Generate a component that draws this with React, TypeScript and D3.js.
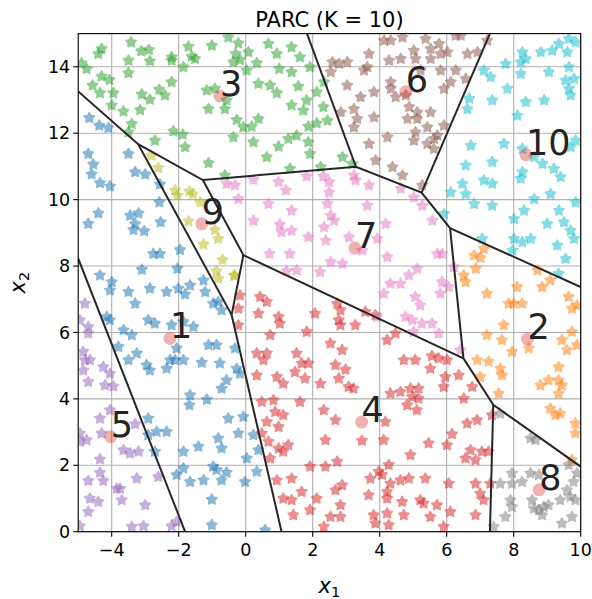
import React from 'react';
import * as d3 from 'd3';

// tab10
const palette = [
  '#1f77b4', '#ff7f0e', '#2ca02c', '#d62728', '#9467bd',
  '#8c564b', '#e377c2', '#7f7f7f', '#bcbd22', '#17becf'
];

const cluster1: [number, number][] = [
  [-4.67, 12.46], [-4.37, 12.23], [-4.1, 12.16], [-4.7, 11.38], [-4.55, 11.06], [-4.6, 10.76],
  [-4.35, 10.5], [-4.05, 10.4], [-3.5, 11.38], [-3.3, 10.83], [-3.0, 10.76], [-2.56, 10.46],
  [-2.58, 9.92], [-4.4, 9.59], [-4.7, 9.27], [-3.45, 9.52], [-3.2, 9.59], [-3.3, 9.27],
  [-3.35, 9.09], [-3.03, 9.05], [-2.54, 9.32], [-2.76, 8.37], [-2.56, 8.37], [-1.96, 8.49],
  [-3.1, 7.89], [-2.04, 7.92],
  [-4.35, 7.72], [-4.0, 7.52], [-4.05, 7.27], [-3.5, 7.22], [-3.3, 6.87], [-2.86, 7.32],
  [-2.36, 7.22], [-2.01, 7.32], [-1.81, 7.15], [-1.66, 7.42], [-1.26, 7.57], [-1.21, 7.22],
  [-0.97, 6.87], [-0.82, 6.92], [-0.72, 6.67], [-4.15, 6.47], [-4.05, 6.37], [-2.91, 6.37],
  [-2.71, 6.27], [-2.21, 6.22], [-1.86, 6.32], [-1.56, 6.17], [-3.65, 6.07], [-3.4, 5.92],
  [-3.8, 5.57], [-3.25, 5.37], [-3.5, 5.17], [-2.96, 5.02], [-2.86, 4.86], [-2.36, 4.91],
  [-2.26, 5.17], [-2.06, 5.52], [-2.11, 5.17], [-1.86, 5.17], [-1.31, 5.09], [-1.11, 5.62],
  [-0.87, 5.62], [-0.77, 5.07], [-0.57, 4.56], [-0.72, 4.31], [-0.32, 5.52], [-0.27, 4.91],
  [-0.17, 4.76], [-1.66, 4.11], [-1.68, 3.81], [-1.16, 3.98], [-0.52, 3.41], [-0.07, 3.46],
  [-0.22, 2.96], [0.23, 2.91], [0.38, 2.46], [0.03, 2.21], [-0.82, 2.81], [-0.72, 2.51],
  [-1.41, 2.56], [-1.86, 2.41], [-2.91, 3.41], [-2.66, 3.01], [-2.36, 3.01], [-2.91, 2.91],
  [-2.71, 2.41], [-1.86, 1.91], [-2.06, 1.71], [-1.66, 1.5], [-1.26, 1.55], [-0.97, 1.96],
  [-0.87, 1.86], [-0.57, 1.78], [-0.72, 1.55], [-0.02, 1.5], [0.33, 1.81], [-1.01, 0.97],
  [-1.01, 0.2], [0.58, 0.05]
];

const cluster2: [number, number][] = [
  [7.11, 8.52], [6.82, 8.32], [7.01, 8.25], [6.87, 7.92], [8.71, 7.87],
  [6.51, 7.72], [6.56, 7.52], [7.2, 7.17], [8.1, 7.37], [8.85, 7.37], [9.09, 7.57],
  [9.64, 7.07], [9.89, 6.82], [7.85, 6.87], [8.0, 6.87], [8.25, 6.87], [9.74, 6.72],
  [7.7, 6.22], [7.2, 5.92], [7.65, 5.77], [8.45, 5.52], [7.95, 5.42], [9.44, 5.77],
  [9.59, 5.47], [9.74, 6.02], [9.89, 5.62], [6.91, 5.17], [7.25, 5.12], [7.6, 4.91],
  [7.65, 4.71], [7.0, 4.66], [7.55, 4.16], [9.34, 4.96], [9.04, 4.56], [8.8, 4.41],
  [9.34, 4.56], [9.44, 4.41], [9.34, 4.16], [9.09, 3.71], [9.24, 3.51], [9.39, 3.56],
  [9.84, 3.26], [9.84, 2.96], [9.74, 2.16]
];

const cluster3: [number, number][] = [
  [-4.3, 14.54], [-4.4, 14.39], [-3.42, 14.74], [-3.12, 14.47], [-2.89, 14.51], [-3.5, 14.19],
  [-2.86, 14.17], [-2.21, 14.29], [-2.21, 14.19], [-1.71, 14.61], [-1.61, 14.31], [-1.51, 14.24],
  [-1.01, 14.64], [-0.52, 14.89], [-0.22, 14.71], [-0.3, 14.39], [-0.37, 14.14], [0.08, 14.44],
  [-0.17, 14.21], [0.33, 14.11], [0.03, 13.89], [0.68, 14.69], [0.93, 14.39], [1.0, 13.94],
  [1.37, 13.84], [1.37, 14.59], [1.62, 14.29], [1.92, 13.99], [-4.75, 13.94], [-4.9, 14.11],
  [-4.3, 13.71], [-4.07, 13.61], [-3.5, 13.81], [-2.21, 13.54], [-1.86, 13.99], [-4.57, 13.44],
  [-4.35, 13.21], [-3.95, 13.21], [-4.0, 12.84], [-3.1, 13.17], [-2.86, 13.01], [-2.58, 13.31],
  [-2.41, 13.14], [-1.16, 13.29], [-0.92, 13.34], [-0.57, 12.99], [-1.11, 12.73], [-0.62, 12.73],
  [0.38, 13.49], [0.73, 13.44], [0.93, 13.21], [1.57, 13.41], [2.12, 13.24], [1.82, 12.99],
  [1.37, 12.84], [1.72, 12.68], [-0.27, 12.4], [-0.07, 12.18], [0.38, 12.43], [0.18, 12.2],
  [-0.37, 11.88], [0.23, 11.73], [0.63, 11.28], [0.98, 11.6], [1.27, 11.83], [1.52, 11.93],
  [1.87, 12.2], [2.12, 12.3], [1.87, 11.73], [1.92, 11.38], [1.32, 10.93], [-1.11, 11.1],
  [-0.62, 10.73], [-1.81, 11.58], [-2.16, 12.06], [-1.88, 11.96], [-2.71, 11.78], [-3.5, 12.03],
  [-3.4, 12.28], [-3.65, 12.66], [-3.15, 12.7], [2.34, 13.54], [2.44, 12.38], [2.89, 11.28],
  [3.18, 11.08], [2.24, 10.98], [2.32, 12.79]
];

const cluster4: [number, number][] = [
  [2.73, 6.87], [2.83, 6.67], [2.78, 6.37], [2.83, 6.22], [3.27, 6.22], [3.57, 6.62],
  [3.87, 6.52], [2.53, 5.67], [2.88, 5.47], [2.68, 5.02], [2.98, 4.88], [2.78, 4.61],
  [3.07, 4.36], [3.22, 4.31], [2.23, 4.46], [4.22, 5.77], [4.47, 5.97], [4.72, 5.17],
  [5.06, 5.17], [5.56, 5.29], [5.76, 5.22], [6.01, 5.17], [5.51, 4.91], [5.96, 4.66],
  [6.36, 4.71], [5.91, 4.36], [6.76, 4.36], [4.92, 4.31], [5.16, 4.31], [4.62, 4.21],
  [4.32, 4.16], [4.97, 4.06], [5.16, 4.01], [4.82, 3.81], [5.11, 3.66], [6.51, 4.01],
  [2.33, 3.66], [2.68, 3.36], [4.17, 3.31], [2.38, 2.76], [3.47, 2.74], [4.12, 2.76],
  [4.92, 2.31], [5.46, 2.66], [6.01, 2.61], [6.16, 2.94], [6.61, 3.26], [6.91, 3.36],
  [7.35, 3.51], [6.71, 2.46], [7.05, 2.41], [7.25, 2.41], [6.56, 2.21], [6.86, 2.16],
  [2.73, 2.11], [2.38, 1.96], [2.68, 1.25], [2.88, 1.4], [3.72, 1.6], [3.97, 1.81],
  [4.27, 2.01], [4.07, 1.71], [4.32, 1.45], [4.62, 1.55], [4.87, 1.6], [5.36, 1.6],
  [6.06, 1.45], [6.86, 1.45], [7.3, 1.45], [3.67, 1.1], [4.22, 1.2], [4.22, 1.0],
  [4.67, 0.9], [5.21, 0.95], [5.31, 0.85], [5.71, 0.8], [6.11, 0.6], [7.0, 1.15],
  [7.1, 0.95], [2.83, 0.8], [2.83, 0.45], [2.53, 0.45], [2.33, 0.15], [3.82, 0.5],
  [4.22, 0.55], [3.87, 0.25], [4.27, 0.2], [4.72, 0.5], [5.51, 0.45], [5.91, 0.15],
  [6.86, 0.5],
  [-0.17, 7.12], [0.43, 7.07], [0.63, 6.92], [0.38, 6.57], [-0.22, 6.72], [0.98, 6.47],
  [1.02, 6.27], [-0.22, 6.22], [0.73, 5.92], [1.82, 6.02], [2.07, 6.57], [0.33, 5.37],
  [0.63, 5.37], [0.53, 5.17], [1.52, 5.37], [1.67, 5.07], [1.87, 5.07], [0.33, 4.71],
  [0.93, 4.66], [1.12, 4.46], [1.47, 4.81], [1.77, 4.61], [0.48, 3.91], [0.83, 3.96],
  [0.88, 3.61], [1.12, 3.51], [1.62, 3.91], [0.63, 3.31], [0.98, 3.16], [0.48, 2.96],
  [0.68, 2.71], [0.73, 2.21], [0.98, 2.51], [1.27, 2.61], [1.12, 2.41], [1.92, 1.96],
  [0.93, 1.55], [1.37, 1.6], [1.67, 1.2], [1.12, 1.0], [1.37, 0.95], [2.12, 1.0],
  [1.42, 0.5], [1.92, 0.65]
];

const cluster5: [number, number][] = [
  [-4.8, 6.87], [-4.95, 6.37], [-4.7, 6.17], [-4.7, 5.97], [-4.85, 5.42], [-4.8, 5.17],
  [-4.65, 5.17], [-4.85, 4.86], [-4.25, 4.96], [-4.7, 4.51], [-4.05, 4.76], [-4.2, 4.41],
  [-3.95, 4.38], [-4.05, 3.66], [-4.35, 3.41], [-3.3, 3.24], [-4.3, 2.96], [-4.95, 2.96],
  [-4.95, 2.71], [-4.75, 2.76], [-3.65, 2.46], [-3.45, 2.36], [-3.2, 2.41], [-4.35, 2.18],
  [-4.35, 1.78], [-4.25, 1.53], [-4.7, 1.53], [-3.85, 1.3], [-3.75, 1.3], [-3.25, 1.6],
  [-2.61, 1.65], [-4.65, 1.0], [-4.4, 0.9], [-3.7, 0.95], [-4.7, 0.6], [-3.0, 0.8],
  [-3.4, 0.15], [-3.05, 0.17], [-4.95, 0.17], [-2.21, 0.17], [-2.06, 0.3]
];

const cluster6: [number, number][] = [
  [4.13, 14.79], [4.33, 14.79], [4.68, 14.89], [5.37, 14.84], [5.52, 14.54], [5.77, 14.69],
  [6.02, 14.44], [5.82, 14.39], [6.27, 14.94], [6.42, 14.94], [6.62, 14.39], [6.92, 14.44],
  [7.21, 14.79], [3.68, 14.39], [4.28, 14.19], [4.63, 14.24], [5.02, 14.49], [5.07, 14.24],
  [5.52, 14.24], [2.59, 14.14], [2.79, 14.09], [3.03, 14.14], [3.53, 13.89], [3.63, 13.99],
  [2.54, 13.84], [4.33, 13.54], [4.48, 13.09], [4.33, 13.34], [5.22, 13.89], [5.82, 13.89],
  [6.27, 13.89], [6.12, 13.54], [5.92, 13.34], [6.57, 13.64], [3.03, 13.44], [3.83, 13.24],
  [3.43, 13.09], [4.78, 13.14], [4.88, 12.79], [5.12, 12.63], [4.83, 12.43], [5.12, 12.43],
  [5.52, 12.63], [5.42, 12.18], [5.92, 12.23], [5.72, 11.93], [5.62, 11.83], [3.23, 12.73],
  [3.33, 12.43], [2.84, 12.63], [3.83, 12.48], [3.23, 12.18], [4.23, 11.88], [3.68, 11.68],
  [5.07, 12.03], [5.02, 11.78], [5.42, 11.68], [5.62, 11.53], [3.88, 11.18], [4.38, 10.98],
  [4.68, 10.73], [5.27, 10.43]
];

const cluster7: [number, number][] = [
  [-0.57, 10.48], [-0.32, 10.43], [0.23, 10.6], [0.98, 10.53], [1.2, 10.28], [1.82, 10.7],
  [2.32, 10.7], [-0.22, 10.02], [0.68, 9.87], [1.37, 9.67], [0.23, 9.37], [1.02, 9.25],
  [1.07, 9.02], [1.37, 9.07], [1.87, 8.87], [0.71, 8.37], [1.32, 8.37], [1.22, 7.85],
  [1.52, 7.87], [2.22, 7.82],
  [2.49, 10.53], [2.49, 10.22], [3.23, 10.73], [3.28, 10.58], [3.68, 10.43], [4.63, 10.33],
  [5.02, 10.07], [5.27, 9.82], [2.44, 9.87], [2.54, 9.52], [2.64, 9.37], [3.63, 9.82],
  [4.18, 9.27], [2.34, 9.17], [2.39, 8.77], [3.93, 8.82], [4.23, 8.27], [3.48, 8.47],
  [3.08, 8.87], [2.54, 8.12], [2.89, 8.07], [5.12, 7.92], [5.72, 8.37], [5.87, 8.37],
  [6.22, 7.97], [5.57, 9.37],
  [4.32, 7.47], [4.62, 7.47], [4.87, 7.72], [4.12, 7.17], [5.06, 7.07], [5.21, 6.82],
  [5.86, 7.52], [6.06, 7.37], [5.81, 7.17], [3.92, 6.47], [4.77, 6.47], [4.97, 6.37],
  [5.26, 6.27], [5.56, 6.27], [5.01, 6.02], [5.76, 5.97], [6.41, 5.47]
];

const cluster8: [number, number][] = [
  [7.6, 3.56], [8.5, 2.81], [8.65, 2.76], [7.95, 1.76], [8.5, 1.76], [7.6, 1.45],
  [7.95, 1.45], [8.25, 1.5], [8.75, 1.71], [9.64, 2.01], [9.89, 1.76], [9.79, 1.5],
  [9.84, 0.95], [9.59, 1.25], [9.39, 0.95], [9.69, 1.05], [7.9, 0.95], [7.95, 0.75],
  [7.75, 0.45], [8.55, 0.95], [8.75, 0.65], [8.9, 0.75], [8.6, 0.7], [8.85, 0.5],
  [9.04, 0.8], [9.44, 0.25], [9.74, 0.45], [7.4, 0.15]
];

const cluster9: [number, number][] = [
  [-2.81, 11.33], [-2.61, 10.96], [-2.11, 10.28], [-2.04, 10.12], [-1.68, 10.25], [-1.58, 10.17],
  [-1.36, 9.92], [-1.71, 9.35], [-0.92, 9.09], [-0.82, 8.82], [-1.26, 8.65], [-0.69, 8.19],
  [-0.87, 7.85], [-0.35, 7.71], [-0.82, 7.62], [-0.32, 7.72]
];

const cluster10: [number, number][] = [
  [8.26, 14.44], [8.36, 14.24], [8.81, 14.44], [9.15, 14.49], [9.35, 14.69], [9.6, 14.44],
  [9.65, 14.84], [9.85, 14.74], [8.21, 14.14], [7.76, 14.09], [7.11, 13.89], [7.31, 13.69],
  [8.21, 13.79], [9.05, 13.84], [9.65, 13.99], [9.55, 13.59], [9.8, 13.64], [9.65, 13.34],
  [9.7, 13.14], [7.81, 13.34], [8.36, 12.94], [8.91, 12.99], [7.36, 12.99], [6.67, 13.04],
  [6.62, 12.73], [8.11, 12.53], [6.72, 11.63], [7.71, 11.68], [8.26, 11.53], [8.61, 11.28],
  [8.86, 11.08], [9.2, 10.93], [9.4, 10.68], [8.26, 10.83], [8.21, 10.63], [7.36, 11.13],
  [6.57, 11.03], [7.11, 10.58], [7.36, 10.48], [6.47, 10.48], [6.57, 10.17], [6.12, 10.22],
  [6.82, 9.87], [7.36, 9.82], [8.01, 9.42], [8.31, 9.67], [9.35, 9.67], [9.85, 9.92],
  [9.0, 9.27], [9.5, 9.32], [9.7, 9.07], [9.8, 8.82], [8.01, 8.82], [8.26, 8.72],
  [8.51, 8.82], [7.96, 8.47], [9.3, 8.62], [9.55, 8.22], [7.06, 8.82], [8.61, 10.02],
  [9.1, 10.17], [9.7, 11.58], [9.85, 11.78], [5.92, 9.57], [9.34, 7.77]
];

const clusters = [
  cluster1, cluster2, cluster3, cluster4, cluster5,
  cluster6, cluster7, cluster8, cluster9, cluster10
];

const centers: [number, number][] = [
  [-2.26, 5.82], [8.41, 5.8], [-0.77, 13.12], [3.46, 3.3], [-4.03, 2.86],
  [4.78, 13.25], [3.26, 8.54], [8.76, 1.26], [-1.31, 9.27], [8.37, 11.35]
];
const centerLabels = ['1', '2', '3', '4', '5', '6', '7', '8', '9', '10'];

// partition edges
const boundaries: [number, number][][] = [
  [[-5, 13.26], [-3.21, 11.67], [-1.28, 10.59], [3.29, 10.99], [5.25, 10.21], [6.1, 9.14], [10, 7.37]],
  [[3.29, 10.99], [1.83, 15]],
  [[5.25, 10.21], [7.29, 15]],
  [[6.1, 9.14], [6.5, 5.22], [7.39, 3.82], [10, 1.96]],
  [[7.39, 3.82], [7.29, 0]],
  [[6.5, 5.22], [-0.07, 8.33], [-1.28, 10.59]],
  [[-0.07, 8.33], [-0.42, 6.53], [1.07, 0]],
  [[-3.21, 11.67], [-0.42, 6.53]],
  [[-5, 8.23], [-1.81, 0]]
];

const xTicks = [-4, -2, 0, 2, 4, 6, 8, 10];
const yTicks = [0, 2, 4, 6, 8, 10, 12, 14];

const W = 592;
const H = 599;
const left = 78.2;
const right = 580.7;
const top = 33.6;
const bottom = 531.7;
const font = 'DejaVu Sans, sans-serif';

// plump five-point star, like the blurred matplotlib '*' marker
const fatStar = {
  draw(ctx: d3.Path, size: number) {
    const R = Math.sqrt(size / 1.6);
    const r = R * 0.55;
    for (let i = 0; i < 10; i++) {
      const a = (Math.PI / 5) * i - Math.PI / 2;
      const rad = i % 2 === 0 ? R : r;
      const px = Math.cos(a) * rad;
      const py = Math.sin(a) * rad;
      if (i === 0) ctx.moveTo(px, py);
      else ctx.lineTo(px, py);
    }
    ctx.closePath();
  }
};

export default function App() {
  const x = d3.scaleLinear().domain([-5, 10]).range([left, right]);
  const y = d3.scaleLinear().domain([0, 15]).range([bottom, top]);
  const star = d3.symbol().type(fatStar as any).size(52)() as string;
  const line = d3.line<[number, number]>().x(d => x(d[0])).y(d => y(d[1]));

  return (
    <svg width={W} height={H} style={{ position: 'absolute', left: 0, top: 0, background: '#fff' }}>
      <defs>
        <clipPath id="plot">
          <rect x={left} y={top} width={right - left} height={bottom - top} />
        </clipPath>
      </defs>

      {xTicks.map(t => (
        <line key={'gx' + t} x1={x(t)} x2={x(t)} y1={top} y2={bottom} stroke="#b0b0b0" strokeWidth={1.1} />
      ))}
      {yTicks.map(t => (
        <line key={'gy' + t} y1={y(t)} y2={y(t)} x1={left} x2={right} stroke="#b0b0b0" strokeWidth={1.1} />
      ))}

      <g clipPath="url(#plot)">
        {clusters.map((pts, i) => (
          <g key={'c' + i} fill={palette[i]} stroke={palette[i]} strokeWidth={1.2} strokeLinejoin="round">
            {pts.map((p, j) => (
              <path key={j} d={star} opacity={0.52} transform={`translate(${x(p[0])},${y(p[1])})`} />
            ))}
          </g>
        ))}
        {centers.map((c, i) => (
          <circle key={'m' + i} cx={x(c[0])} cy={y(c[1])} r={6.5} fill="#d62728" fillOpacity={0.36} />
        ))}
        {boundaries.map((b, i) => (
          <path key={'b' + i} d={line(b) as string} fill="none" stroke="#262626" strokeWidth={2} />
        ))}
      </g>

      {centers.map((c, i) => (
        <text key={'l' + i} x={x(c[0])} y={y(c[1])} fontFamily={font} fontSize={35} fill="#222">
          {centerLabels[i]}
        </text>
      ))}

      <rect x={left} y={top} width={right - left} height={bottom - top} fill="none" stroke="#000" strokeWidth={1.1} />

      {xTicks.map(t => (
        <g key={'tx' + t}>
          <line x1={x(t)} x2={x(t)} y1={bottom} y2={bottom + 5} stroke="#000" strokeWidth={1.1} />
          <text x={x(t)} y={bottom + 24} textAnchor="middle" fontFamily={font} fontSize={17.5} fill="#000">
            {t < 0 ? '\u2212' + Math.abs(t) : t}
          </text>
        </g>
      ))}
      {yTicks.map(t => (
        <g key={'ty' + t}>
          <line x1={left - 5} x2={left} y1={y(t)} y2={y(t)} stroke="#000" strokeWidth={1.1} />
          <text x={left - 8} y={y(t)} dy="0.35em" textAnchor="end" fontFamily={font} fontSize={17.5} fill="#000">
            {t}
          </text>
        </g>
      ))}

      <text x={(left + right) / 2} y={26.5} textAnchor="middle" fontFamily={font} fontSize={21} fill="#000">
        PARC (K = 10)
      </text>

      <text x={(left + right) / 2} y={593} textAnchor="middle" fontFamily={font} fontSize={21} fill="#000">
        <tspan fontStyle="italic">x</tspan>
        <tspan fontSize={14.7} dy={4}>1</tspan>
      </text>
      <text
        transform={`translate(25,${(top + bottom) / 2}) rotate(-90)`}
        textAnchor="middle"
        fontFamily={font}
        fontSize={21}
        fill="#000"
      >
        <tspan fontStyle="italic">x</tspan>
        <tspan fontSize={14.7} dy={4}>2</tspan>
      </text>
    </svg>
  );
}
